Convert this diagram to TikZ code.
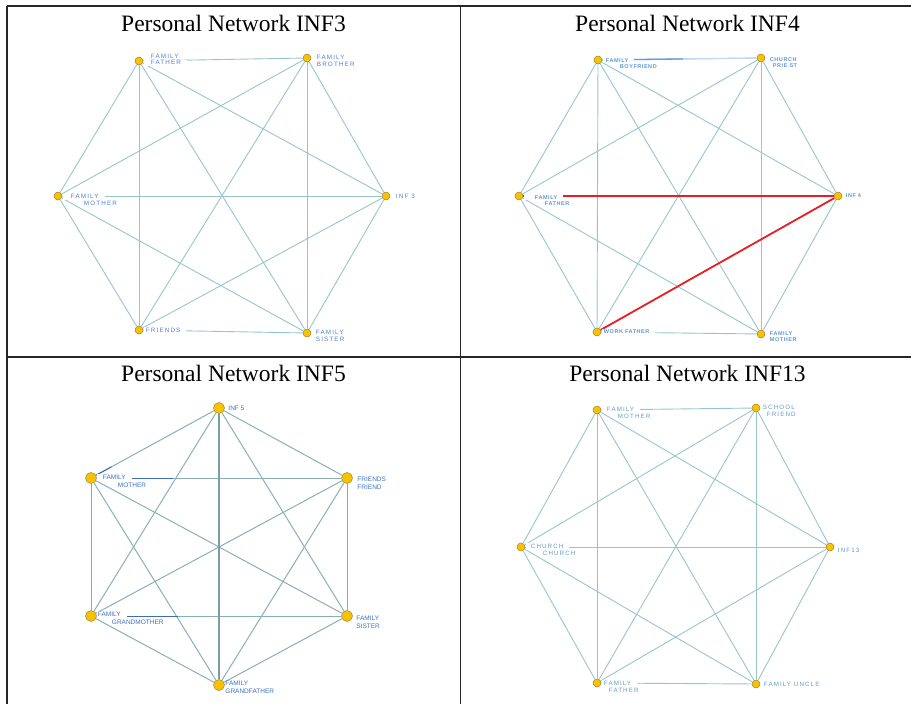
\documentclass[tikz,border=0pt]{standalone}
\usepackage{fontspec}
\setmainfont{Liberation Serif}
\newfontfamily\wideface[LetterSpace=18]{Liberation Sans}
\newfontfamily\tightface[LetterSpace=10]{Liberation Sans}
\newfontfamily\plainface{Liberation Sans}
\usetikzlibrary{positioning, calc}
\setlength{\fboxsep}{1pt}
% white patch behind a label line, so the tie seems to start after it
\newcommand{\masked}[2][1pt]{\leavevmode\rlap{\hspace*{-#1}\colorbox{white}{\hspace*{#1}\phantom{#2}\hspace*{4pt}}}#2}
\definecolor{tieteal}{RGB}{152,196,204}
\definecolor{tiedark}{RGB}{136,176,182}
\definecolor{tieblue}{RGB}{58,110,181}
\definecolor{tiemid}{RGB}{92,158,214}
\definecolor{tielav}{RGB}{200,214,240}
\definecolor{tiered}{RGB}{232,30,36}
\definecolor{dotfill}{RGB}{247,195,0}
\definecolor{dotring}{RGB}{160,128,50}
\definecolor{lblone}{RGB}{80,125,210}
\definecolor{lbltwocol}{RGB}{92,152,214}
\definecolor{lblthreecol}{RGB}{60,112,196}
\definecolor{lblfourcol}{RGB}{98,154,196}
\tikzstyle{person} = [circle, draw=dotring, fill=dotfill, line width=0.5pt,
  minimum size=8pt, inner sep=0pt]
\tikzstyle{bigperson} = [person, minimum size=11pt]
\tikzstyle{tie} = [draw=tieteal, line width=0.9pt]
\tikzstyle{darktie} = [draw=tiedark, line width=1pt]
\tikzstyle{redtie} = [draw=tiered, line width=1.8pt]
\tikzstyle{lbl} = [anchor=west, align=left, inner sep=0.5pt, text=lblone,
  font=\wideface\fontsize{6.3}{6.6}\selectfont]
\tikzstyle{lbltwo} = [lbl, text=lbltwocol, font=\tightface\bfseries\fontsize{5.5}{6.2}\selectfont]
\tikzstyle{lblthree} = [lbl, text=lblthreecol, font=\plainface\fontsize{6.5}{8}\selectfont]
\tikzstyle{lblfour} = [lbl, text=lblfourcol, font=\wideface\fontsize{6.2}{7}\selectfont]
\tikzstyle{heading} = [anchor=base, font=\fontsize{23.5}{28}\selectfont]
\tikzstyle{gridline} = [draw=black!85, line width=1.2pt]

\begin{document}
\begin{tikzpicture}[x=1pt, y=-1pt]
    \useasboundingbox (0,0) rectangle (911,704);
    % table
    \draw[gridline] (7,6) -- (911,6);
    \draw[gridline] (7,357) -- (911,357);
    \draw[gridline] (7,6) -- (7,704);
    \draw[gridline] (460.5,6) -- (460.5,704);

    \node[heading] (t3) at (233.5,31.5) {Personal Network INF3};
    \node[heading] (t4) at (687.5,31.5) {Personal Network INF4};
    \node[heading] (t5) at (233.5,381.5) {Personal Network INF5};
    \node[heading] (t13) at (687.5,381.5) {Personal Network INF13};

    % INF3
    \node[person] (a1) at (139,61) {};
    \node[person] (a2) at (307,58) {};
    \node[person] (a3) at (58,196) {};
    \node[person] (a4) at (386,196) {};
    \node[person] (a5) at (139,330) {};
    \node[person] (a6) at (307,333) {};
    % INF4
    \node[person] (b1) at (598,60) {};
    \node[person] (b2) at (761,58) {};
    \node[person] (b3) at (519,196) {};
    \node[person] (b4) at (838,196) {};
    \node[person] (b5) at (597,332) {};
    \node[person] (b6) at (761,334) {};
    % INF5
    \node[bigperson] (c1) at (219,408) {};
    \node[bigperson] (c2) at (91,478) {};
    \node[bigperson] (c3) at (347,478) {};
    \node[bigperson] (c4) at (91,616) {};
    \node[bigperson] (c5) at (347,616) {};
    \node[bigperson] (c6) at (219,685) {};
    % INF13
    \node[person] (d1) at (597,410) {};
    \node[person] (d2) at (756,408) {};
    \node[person] (d3) at (521,547) {};
    \node[person] (d4) at (830,547) {};
    \node[person] (d5) at (597,683) {};
    \node[person] (d6) at (756,684) {};

    % everyone knows everyone
    \foreach \p in {a,b,d}
      \foreach \i/\j in {1/2,1/3,1/4,1/5,1/6,2/3,2/4,2/5,2/6,3/4,3/5,3/6,4/5,4/6,5/6}
        \draw[tie] (\p\i) -- (\p\j);
    \foreach \i/\j in {1/2,1/3,1/4,1/5,2/3,2/4,2/5,2/6,3/4,3/5,3/6,4/5,4/6,5/6}
      \draw[darktie] (c\i) -- (c\j);
    \draw[darktie, line width=1.6pt, draw=tiedark!90!black] (c1) -- (c6);

    % highlighted ties
    \draw[tie, draw=tielav, line width=1.3pt] (b1) -- (b2);
    \draw[tie, draw=tiemid, line width=1.3pt] (b1) -- ($(b1)!0.52!(b2)$);
    \draw[redtie] (b3) -- (b4);
    \draw[redtie] (b5) -- (b4);
    \draw[darktie, draw=tieblue] (c2) -- ($(c2)!0.32!(c3)$);
    \draw[darktie, draw=tieblue] (c4) -- ($(c4)!0.34!(c5)$);
    \draw[darktie, draw=tieblue] (c2) -- ($(c2)!0.16!(c1)$);

    % names
    \node[lbl, right=7pt of a1, yshift=1pt] (a1l) {FAMILY\\\masked[7pt]{FATHER}};
    \node[lbl, right=5pt of a2, yshift=-3pt] (a2l) {FAMILY\\BROTHER};
    \node[lbl, right=8pt of a3, yshift=-3.5pt] (a3l) {\masked[8pt]{FAMILY}\\\hspace*{13pt}MOTHER};
    \node[lbl, right=5pt of a4] (a4l) {INF 3};
    \node[lbl, right=2pt of a5] (a5l) {\masked[2pt]{FRIENDS}};
    \node[lbl, right=4pt of a6, yshift=-3pt] (a6l) {FAMILY\\SISTER};

    \node[lbltwo, right=3pt of b1, yshift=-3pt] (b1l) {\masked[3pt]{FAMILY}\\\hspace*{14pt}BOYFRIEND};
    \node[lbltwo, right=4pt of b2, yshift=-5pt] (b2l) {CHURCH\\\hspace*{3pt}PRIE ST};
    \node[lbltwo, right=11pt of b3, yshift=-4pt] (b3l) {\masked[11pt]{FAMILY}\\\hspace*{10pt}FATHER};
    \node[lbltwo, right=3pt of b4] (b4l) {INF 4};
    \node[lbltwo, right=2pt of b5] (b5l) {\masked[2pt]{WORK FATHER}};
    \node[lbltwo, right=4pt of b6, yshift=-3pt] (b6l) {FAMILY\\MOTHER};

    \node[lblthree, right=3pt of c1] (c1l) {INF 5};
    \node[lblthree, right=5.5pt of c2, yshift=-3pt] (c2l) {\masked[5.5pt]{FAMILY}\\\hspace*{15pt}MOTHER};
    \node[lblthree, right=4pt of c3, yshift=-5pt] (c3l) {FRIENDS\\FRIEND};
    \node[lblthree, right=0.5pt of c4, yshift=-2pt] (c4l) {\masked[0.5pt]{FAMILY}\\\hspace*{14pt}GRANDMOTHER};
    \node[lblthree, right=3pt of c5, yshift=-6pt] (c5l) {FAMILY\\SISTER};
    \node[lblthree, right=0pt of c6, yshift=-2pt] (c6l) {FAMILY\\GRANDFATHER};

    \node[lblfour, right=5pt of d1, yshift=-2pt] (d1l) {\masked[5pt]{FAMILY}\\\hspace*{11pt}MOTHER};
    \node[lblfour, right=2pt of d2, yshift=-2.5pt] (d2l) {SCHOOL\\\hspace*{4pt}FRIEND};
    \node[lblfour, right=5pt of d3, yshift=-2.5pt] (d3l) {\masked[5pt]{CHURCH}\\\hspace*{12pt}CHURCH};
    \node[lblfour, right=3pt of d4, yshift=-3pt] (d4l) {INF13};
    \node[lblfour, right=2pt of d5, yshift=-3.5pt] (d5l) {\masked[2pt]{FAMILY}\\\hspace*{5pt}FATHER};
    \node[lblfour, right=3pt of d6] (d6l) {FAMILY UNCLE};
\end{tikzpicture}
\end{document}
